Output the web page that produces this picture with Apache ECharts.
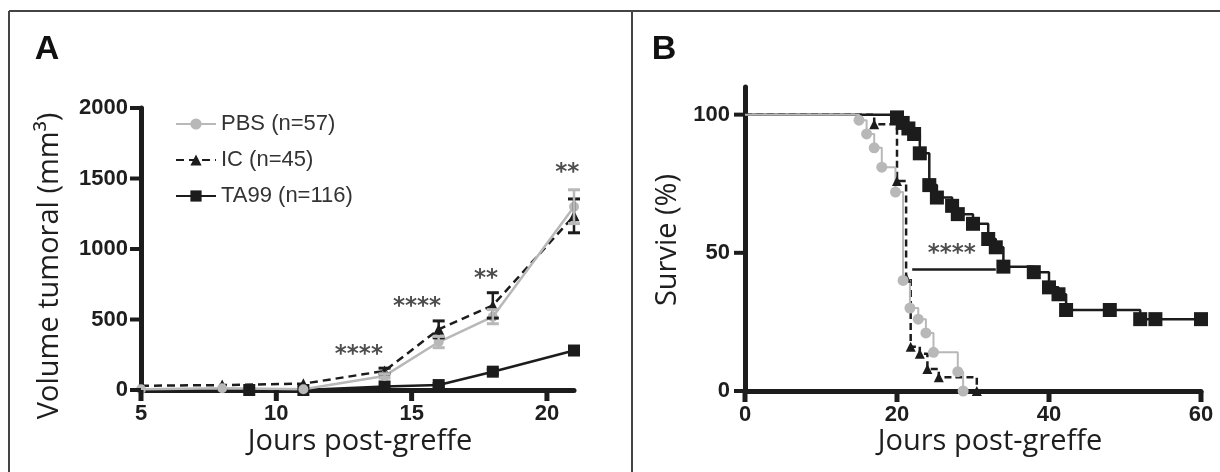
<!DOCTYPE html>
<html><head><meta charset="utf-8">
<script src="https://cdn.jsdelivr.net/npm/echarts@6/dist/echarts.min.js"></script>
<style>html,body{margin:0;padding:0;background:#fff}#c{width:1220px;height:472px}</style>
</head><body><div id="c"></div>
<script>
// ---------- Panel A : tumour volume (mm3) ----------
const aXTicks = [5, 10, 15, 20];
const aYTicks = [0, 500, 1000, 1500, 2000];
const pbsDays = [5, 8, 11, 14, 16, 18, 21];
const pbsVol  = [5, 12, 5, 100, 340, 520, 1300];
const pbsSem  = [0, 0, 0, 15, 40, 50, 120];
const icDays  = [5, 8, 11, 14, 16, 18, 21];
const icVol   = [30, 35, 45, 135, 430, 600, 1235];
const icSem   = [0, 0, 0, 20, 60, 90, 120];
const taDays  = [9, 11, 14, 16, 18, 21];
const taVol   = [0, 0, 25, 35, 130, 280];
const taSem   = [0, 0, 0, 10, 15, 25];
const legendNames = ['PBS (n=57)', 'IC (n=45)', 'TA99 (n=116)'];
const starsA = [[13.05, 250, '****'], [15.2, 590, '****'], [17.75, 785, '**'], [20.75, 1540, '**']];

// ---------- Panel B : survival (%) ----------
const bXTicks = [0, 20, 40, 60];
const bYTicks = [0, 50, 100];
const kmPbsDays = [0, 15, 16, 17, 18, 19.8, 20.8, 21.7, 22.8, 23.8, 24.8, 28, 28.7];
const kmPbsSurv = [100, 98, 93, 88, 81, 72, 40, 30, 26, 21, 14, 7, 0];
const kmIcDays  = [0, 17, 20, 21.2, 21.8, 23, 24, 25.5, 30.5];
const kmIcSurv  = [100, 96.5, 76, 41, 16, 13.5, 8, 5, 0];
const kmTaDays  = [0, 20, 20.75, 21.5, 22.25, 23, 24.25, 25.25, 27.25, 28, 30, 32, 33, 34, 38, 40, 41.25, 42.25, 48, 52, 54, 60];
const kmTaSurv  = [100, 99, 97, 95, 93, 86, 74.5, 70, 67, 64, 60.5, 55, 52, 45, 43, 37.5, 35, 29.3, 29.3, 26, 26, 26];
const bracketB = [[22, 44], [33, 44]];
const starsB = [[27.2, 49.5, '****']];

const GRAY = '#b8b8b8', BLACK = '#1c1c1c', TXT = '#1e1e1e';
const tickFont = {fontFamily: 'Liberation Sans', fontWeight: 'bold', fontSize: 22, color: TXT, formatter: v => String(v)};

function pairs(xs, ys) { return xs.map((x, i) => [x, ys[i]]); }

function errSeries(days, vals, sems, color, idx) {
  return {
    type: 'custom', xAxisIndex: idx, yAxisIndex: idx, silent: true, z: 4,
    data: days.map((d, i) => [d, vals[i] - sems[i], vals[i] + sems[i]]).filter(r => r[2] > r[1]),
    encode: {x: 0, y: [1, 2]},
    renderItem: function (params, api) {
      const lo = api.coord([api.value(0), api.value(1)]);
      const hi = api.coord([api.value(0), api.value(2)]);
      const w = 6;
      return {type: 'group', children: [
        {type: 'line', shape: {x1: lo[0], y1: lo[1], x2: hi[0], y2: hi[1]}, style: {stroke: color, lineWidth: 2.5}},
        {type: 'line', shape: {x1: hi[0] - w, y1: hi[1], x2: hi[0] + w, y2: hi[1]}, style: {stroke: color, lineWidth: 3}},
        {type: 'line', shape: {x1: lo[0] - w, y1: lo[1], x2: lo[0] + w, y2: lo[1]}, style: {stroke: color, lineWidth: 3}}
      ]};
    }
  };
}

// axis tick marks placed through the axes' own scales
function tickSeries(values, idx, dir, base) {
  return {
    type: 'custom', xAxisIndex: idx, yAxisIndex: idx, silent: true, z: 20, clip: false,
    data: values.map(v => dir === 'x' ? [v, base] : [base, v]),
    encode: {x: 0, y: 1},
    renderItem: function (params, api) {
      const p = api.coord([api.value(0), api.value(1)]);
      const shape = dir === 'x' ? {x1: p[0], y1: p[1], x2: p[0], y2: p[1] + 11}
                                : {x1: p[0], y1: p[1], x2: p[0] - 11, y2: p[1]};
      return {type: 'line', shape: shape, style: {stroke: BLACK, lineWidth: dir === 'x' ? 5 : 4}};
    }
  };
}

function starSeries(items, idx) {
  return {
    type: 'scatter', xAxisIndex: idx, yAxisIndex: idx, symbolSize: 0, silent: true, z: 6,
    data: items.map(s => ({value: [s[0], s[1]], name: s[2]})),
    label: {show: true, position: 'inside', formatter: p => p.name,
      fontFamily: 'DejaVu Sans', fontWeight: 'bold', fontSize: 23, color: '#222'}
  };
}

function kmData(xs, ys) {
  return xs.map((x, i) => i === 0 ? {value: [x, ys[i]], symbol: 'none'} : [x, ys[i]]);
}

const axisLineStyle = {show: true, lineStyle: {color: BLACK, width: 5}};

const chart = echarts.init(document.getElementById('c'), null, {renderer: 'canvas'});
chart.setOption({
  animation: false,
  backgroundColor: '#fff',
  grid: [
    {left: 141, top: 108, width: 433, height: 282},
    {left: 745, top: 87, width: 456, height: 304}
  ],
  xAxis: [
    {type: 'value', gridIndex: 0, min: 5, max: 21, interval: 5, splitLine: {show: false},
      axisLine: axisLineStyle, axisTick: {show: false},
      axisLabel: Object.assign({margin: 13, customValues: aXTicks}, tickFont)},
    {type: 'value', gridIndex: 1, min: 0, max: 60, interval: 20, splitLine: {show: false},
      axisLine: axisLineStyle, axisTick: {show: false},
      axisLabel: Object.assign({margin: 13, customValues: bXTicks}, tickFont)}
  ],
  yAxis: [
    {type: 'value', gridIndex: 0, min: 0, max: 2000, interval: 500, splitLine: {show: false},
      axisLine: axisLineStyle, axisTick: {show: false},
      axisLabel: Object.assign({margin: 13, customValues: aYTicks}, tickFont)},
    {type: 'value', gridIndex: 1, min: 0, max: 110, interval: 50, splitLine: {show: false},
      axisLine: axisLineStyle, axisTick: {show: false},
      axisLabel: Object.assign({margin: 15, customValues: bYTicks}, tickFont)}
  ],
  legend: {
    data: legendNames, orient: 'vertical', left: 170, top: 106, itemWidth: 40, itemHeight: 14, itemGap: 10,
    textStyle: {fontFamily: 'Liberation Sans', fontSize: 22, color: '#333', lineHeight: 26}
  },
  series: [
    // Panel A
    {name: legendNames[2], type: 'line', xAxisIndex: 0, yAxisIndex: 0, data: pairs(taDays, taVol), z: 3,
      symbol: 'rect', symbolSize: 12, itemStyle: {color: BLACK}, lineStyle: {color: BLACK, width: 2.5}, clip: false},
    {name: legendNames[1], type: 'line', xAxisIndex: 0, yAxisIndex: 0, data: pairs(icDays, icVol), z: 3,
      symbol: 'triangle', symbolSize: 11, itemStyle: {color: BLACK}, lineStyle: {color: BLACK, width: 2.5, type: [8, 5]}},
    {name: legendNames[0], type: 'line', xAxisIndex: 0, yAxisIndex: 0, data: pairs(pbsDays, pbsVol), z: 3,
      symbol: 'circle', symbolSize: 10, itemStyle: {color: GRAY}, lineStyle: {color: GRAY, width: 2.5}},
    errSeries(taDays, taVol, taSem, BLACK, 0),
    errSeries(icDays, icVol, icSem, BLACK, 0),
    errSeries(pbsDays, pbsVol, pbsSem, GRAY, 0),
    starSeries(starsA, 0),
    tickSeries(aXTicks, 0, 'x', 0),
    tickSeries(aYTicks, 0, 'y', 5),
    // Panel B
    {name: 'TA99 KM', type: 'line', step: 'end', xAxisIndex: 1, yAxisIndex: 1, data: kmData(kmTaDays, kmTaSurv), z: 3,
      symbol: 'rect', symbolSize: 14, itemStyle: {color: BLACK}, lineStyle: {color: BLACK, width: 2.5}},
    {name: 'IC KM', type: 'line', step: 'end', xAxisIndex: 1, yAxisIndex: 1, data: kmData(kmIcDays, kmIcSurv), z: 3,
      symbol: 'triangle', symbolSize: 10, itemStyle: {color: BLACK}, lineStyle: {color: BLACK, width: 2.5, type: [7, 4]}},
    {name: 'PBS KM', type: 'line', step: 'end', xAxisIndex: 1, yAxisIndex: 1, data: kmData(kmPbsDays, kmPbsSurv), z: 3,
      symbol: 'circle', symbolSize: 11, itemStyle: {color: GRAY}, lineStyle: {color: GRAY, width: 2}},
    {name: 'bracket', type: 'line', xAxisIndex: 1, yAxisIndex: 1, data: bracketB, symbol: 'none', z: 3,
      lineStyle: {color: BLACK, width: 2.5}, silent: true},
    starSeries(starsB, 1),
    tickSeries(bXTicks, 1, 'x', 0),
    tickSeries(bYTicks, 1, 'y', 0)
  ],
  graphic: [
    {type: 'line', shape: {x1: 9, y1: 11, x2: 1220, y2: 11}, style: {stroke: '#444', lineWidth: 2}},
    {type: 'line', shape: {x1: 9, y1: 11, x2: 9, y2: 472}, style: {stroke: '#444', lineWidth: 2}},
    {type: 'line', shape: {x1: 632, y1: 11, x2: 632, y2: 472}, style: {stroke: '#444', lineWidth: 2}},
    {type: 'text', x: 47, y: 50, style: {text: 'A', font: 'bold 34px "Liberation Sans"', fill: '#111', textAlign: 'center', textVerticalAlign: 'middle'}},
    {type: 'text', x: 664, y: 50, style: {text: 'B', font: 'bold 34px "Liberation Sans"', fill: '#111', textAlign: 'center', textVerticalAlign: 'middle'}},
    {type: 'text', x: 50, y: 266, rotation: Math.PI / 2, style: {text: 'Volume tumoral (mm³)', font: '29px "Open Sans"', fill: TXT, textAlign: 'center', textVerticalAlign: 'middle'}},
    {type: 'text', x: 668, y: 240, rotation: Math.PI / 2, style: {text: 'Survie (%)', font: '29px "Open Sans"', fill: TXT, textAlign: 'center', textVerticalAlign: 'middle'}},
    {type: 'text', x: 360, y: 442, style: {text: 'Jours post-greffe', font: '29px "Open Sans"', fill: TXT, textAlign: 'center', textVerticalAlign: 'middle'}},
    {type: 'text', x: 990, y: 442, style: {text: 'Jours post-greffe', font: '29px "Open Sans"', fill: TXT, textAlign: 'center', textVerticalAlign: 'middle'}}
  ]
});
</script></body></html>
